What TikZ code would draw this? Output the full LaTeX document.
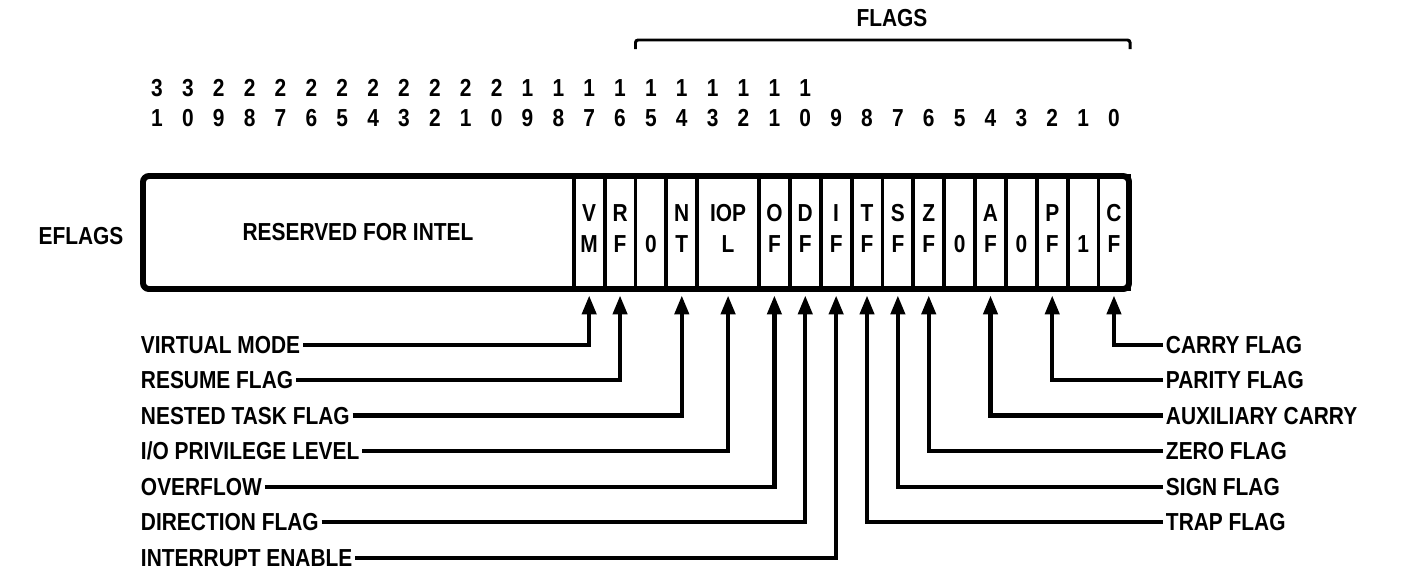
\documentclass[tikz,border=0pt]{standalone}
\usepackage{fontspec}
\setmainfont{Liberation Sans}[FakeStretch=0.85]
\usetikzlibrary{arrows.meta}

\tikzset{
  bitcell/.style={draw, line width=2.2pt, minimum width=0.6174cm, minimum height=2.26cm, inner sep=0pt},
  flagtext/.style={inner sep=1.5pt, text height=10pt, text depth=0pt},
  flagline/.style={line width=2.4pt, -{Triangle[length=0.38cm,width=0.28cm]}, shorten >=0.09cm},
}

\begin{document}
\begin{tikzpicture}[x=0.02cm, y=-0.02cm, font=\fontsize{14}{17}\bfseries\selectfont]
  \useasboundingbox (0,0) rectangle (1404,582);

  % bit numbers
  \foreach \k in {0,...,31}{
    \pgfmathtruncatemacro\ones{mod(\k,10)}
    \pgfmathtruncatemacro\tens{div(\k,10)}
    \node[flagtext] (d\k) at ({157+(31-\k)*30.87},118) {\ones};
    \ifnum\k>9 \node[flagtext] (t\k) at ({157+(31-\k)*30.87},88) {\tens};\fi
  }

  % flags brace
  \draw[line width=1.7pt, rounded corners=0.05cm] (635.5,49) -- (635.5,40) -- (1130,40) -- (1130,49);
  \node[flagtext] (flags) at (892,18) {FLAGS};

  % register
  \node[flagtext] (eflags) at (81,236) {EFLAGS};
  \draw[line width=3.4pt, rounded corners=0.12cm] (143,176) rectangle (1129,289);
  \node[flagtext] (resv) at (358,232) {RESERVED FOR INTEL};

  \foreach \b/\hi/\lo in {17/V/M,16/R/F,15//0,14/N/T,11/O/F,10/D/F,9/I/F,8/T/F,
                          7/S/F,6/Z/F,5//0,4/A/F,3//0,2/P/F,1//1,0/C/F}{
    \node[bitcell] (b\b) at ({157+(31-\b)*30.87},232.5) {};
    \node[flagtext] (hi\b) at ({157+(31-\b)*30.87},213) {\hi};
    \node[flagtext] (lo\b) at ({157+(31-\b)*30.87},244) {\lo};
  }
  \node[bitcell, minimum width=1.2348cm] (b13) at ({157+18.5*30.87},232.5) {};
  \node[flagtext] (hi13) at ({157+18.5*30.87},213) {IOP};
  \node[flagtext] (lo13) at ({157+18.5*30.87},244) {L};

  % labels, left
  \node[flagtext, anchor=west] (lvm) at (138,345) {VIRTUAL MODE};
  \node[flagtext, anchor=west] (lrf) at (138,380) {RESUME FLAG};
  \node[flagtext, anchor=west] (lnt) at (138,415.5) {NESTED TASK FLAG};
  \node[flagtext, anchor=west] (liopl) at (138,451) {I/O PRIVILEGE LEVEL};
  \node[flagtext, anchor=west] (lof) at (138,487) {OVERFLOW};
  \node[flagtext, anchor=west] (ldf) at (138,522) {DIRECTION FLAG};
  \node[flagtext, anchor=west] (lif) at (138,558) {INTERRUPT ENABLE};

  % labels, right
  \node[flagtext, anchor=west] (lcf) at (1163,345) {CARRY FLAG};
  \node[flagtext, anchor=west] (lpf) at (1163,380) {PARITY FLAG};
  \node[flagtext, anchor=west] (laf) at (1163,415.5) {AUXILIARY CARRY};
  \node[flagtext, anchor=west] (lzf) at (1163,451) {ZERO FLAG};
  \node[flagtext, anchor=west] (lsf) at (1163,487) {SIGN FLAG};
  \node[flagtext, anchor=west] (ltf) at (1163,522) {TRAP FLAG};

  \draw[flagline] (lvm.east) -| (b17.south);
  \draw[flagline] (lrf.east) -| (b16.south);
  \draw[flagline] (lnt.east) -| (b14.south);
  \draw[flagline] (liopl.east) -| (b13.south);
  \draw[flagline] (lof.east) -| (b11.south);
  \draw[flagline] (ldf.east) -| (b10.south);
  \draw[flagline] (lif.east) -| (b9.south);

  \draw[flagline] (lcf.west) -| (b0.south);
  \draw[flagline] (lpf.west) -| (b2.south);
  \draw[flagline] (laf.west) -| (b4.south);
  \draw[flagline] (lzf.west) -| (b6.south);
  \draw[flagline] (lsf.west) -| (b7.south);
  \draw[flagline] (ltf.west) -| (b8.south);
\end{tikzpicture}
\end{document}
